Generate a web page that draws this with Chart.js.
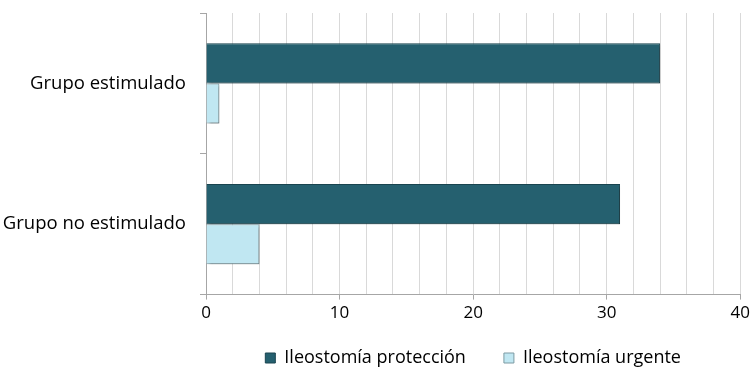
<!DOCTYPE html>
<html><head><meta charset="utf-8">
<script src="https://cdn.jsdelivr.net/npm/chart.js@4/dist/chart.umd.min.js"></script>
<style>html,body{margin:0;padding:0;background:#fff}#wrap{width:753px;height:374px}</style>
</head><body><div id="wrap"><canvas id="c" width="753" height="374"></canvas></div>
<script>
const categories = ["Grupo estimulado", "Grupo no estimulado"];
const seriesNames = ["Ileostomía protección", "Ileostomía urgente"];
const proteccion = [34, 31];
const urgente = [1, 4];
const xTickLabels = [0, 10, 20, 30, 40];

const shadowPlugin = {
  id: 'shadow',
  beforeDatasetsDraw(chart){ const ctx=chart.ctx; ctx.save(); ctx.shadowColor='rgba(0,0,0,0.35)'; ctx.shadowOffsetX=2; ctx.shadowOffsetY=2; ctx.shadowBlur=3; },
  afterDatasetsDraw(chart){ chart.ctx.restore(); }
};
const legendPlace = {
  id: 'legendPlace',
  afterLayout(chart){
    const lg = chart.legend; if (!lg) return;
    const ca = chart.chartArea;
    lg.left = ca.left; lg.right = ca.right;
    lg.top -= 15; lg.bottom -= 15;
  }
};

new Chart(document.getElementById('c'), {
  type: 'bar',
  data: {
    labels: categories,
    datasets: [
      { label: seriesNames[0], data: proteccion, backgroundColor: '#25606F', borderColor: '#1A4550', borderWidth: 1 },
      { label: seriesNames[1], data: urgente, backgroundColor: '#C0E7F2', borderColor: '#7C9AA3', borderWidth: 1 }
    ]
  },
  options: {
    indexAxis: 'y',
    responsive: false,
    animation: false,
    devicePixelRatio: 1,
    layout: { padding: { top: 13, right: 12, left: 0, bottom: -18 } },
    datasets: { bar: { categoryPercentage: 0.57, barPercentage: 1.0 } },
    scales: {
      x: {
        min: 0, max: 40,
        afterFit: (s) => { s.paddingTop = 0; s.paddingBottom = 0; },
        ticks: {
          stepSize: 2, autoSkip: false, maxRotation: 0,
          color: '#000', font: { family: 'Open Sans', size: 17 }, padding: 3,
          callback: (v) => xTickLabels.includes(v) ? String(v) : ''
        },
        grid: {
          color: '#D9D9D9', lineWidth: 1, tickLength: 5,
          tickColor: (c) => (c.tick && xTickLabels.includes(c.tick.value)) ? '#A6A6A6' : 'rgba(0,0,0,0)'
        },
        border: { color: '#A6A6A6', width: 1 }
      },
      y: {
        offset: true,
        afterFit: (s) => { s.paddingTop = 0; s.paddingBottom = 0; s.width = 206; },
        ticks: { color: '#000', font: { family: 'Open Sans', size: 18.5 }, padding: 14 },
        grid: { offset: true, drawOnChartArea: false, tickLength: 6, color: '#A6A6A6' },
        border: { color: '#A6A6A6', width: 1 }
      }
    },
    plugins: {
      legend: {
        position: 'bottom',
        labels: { boxWidth: 10, boxHeight: 10, color: '#000', font: { family: 'Open Sans', size: 18 }, padding: 38 }
      },
      tooltip: { enabled: false }
    }
  },
  plugins: [shadowPlugin, legendPlace]
});
</script></body></html>
